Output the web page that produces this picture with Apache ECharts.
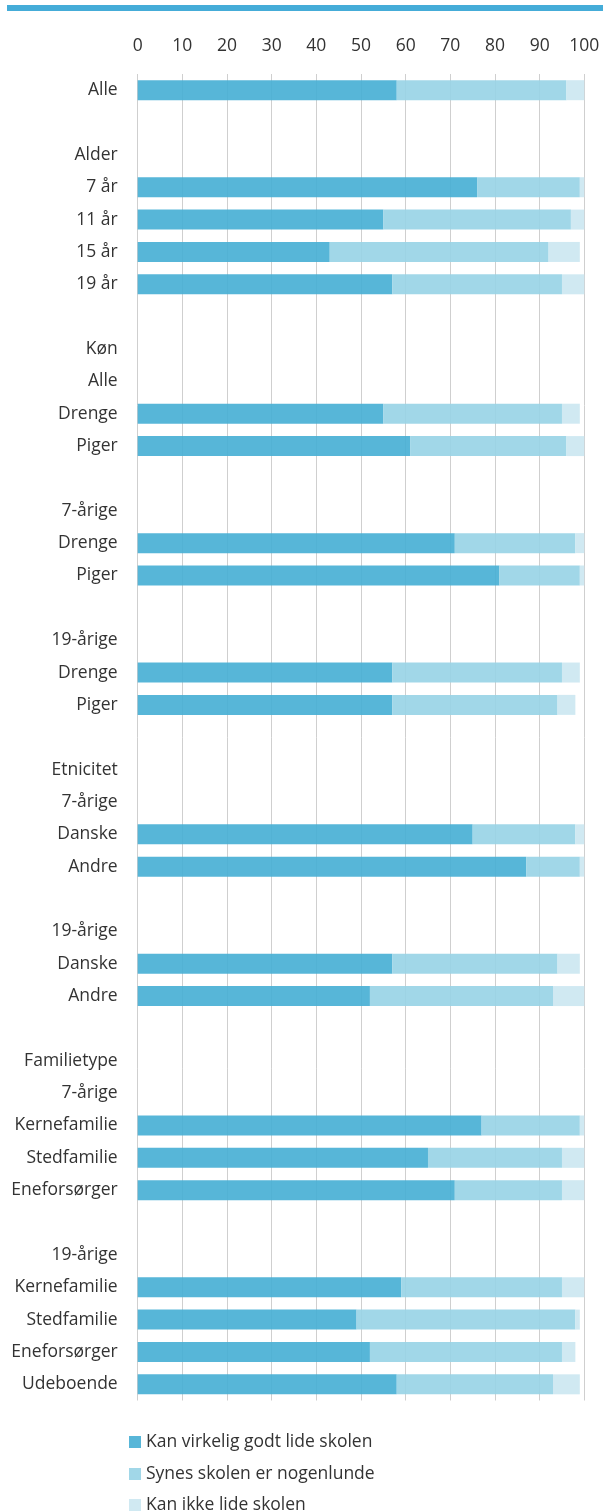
<!DOCTYPE html>
<html>
<head>
<meta charset="utf-8">
<script src="https://cdn.jsdelivr.net/npm/echarts@6/dist/echarts.min.js"></script>
<style>
html,body{margin:0;padding:0;background:#fff;}
#chart{width:603px;height:1512px;}
</style>
</head>
<body>
<div id="chart"></div>
<script>
const categories = ['Alle','','Alder','7 år','11 år','15 år','19 år','',
  'Køn','Alle','Drenge','Piger','','7-årige','Drenge','Piger','','19-årige','Drenge','Piger','',
  'Etnicitet','7-årige','Danske','Andre','','19-årige','Danske','Andre','',
  'Familietype','7-årige','Kernefamilie','Stedfamilie','Eneforsørger','','19-årige','Kernefamilie','Stedfamilie','Eneforsørger','Udeboende'];
const seriesNames = ['Kan virkelig godt lide skolen','Synes skolen er nogenlunde','Kan ikke lide skolen'];
const likeVeryMuch = [58,null,null,76,55,43,57,null,
  null,null,55,61,null,null,71,81,null,null,57,57,null,
  null,null,75,87,null,null,57,52,null,
  null,null,77,65,71,null,null,59,49,52,58];
const soSo = [38,null,null,23,42,49,38,null,
  null,null,40,35,null,null,27,18,null,null,38,37,null,
  null,null,23,12,null,null,37,41,null,
  null,null,22,30,24,null,null,36,49,43,35];
const dislike = [4,null,null,1.5,3,7,5,null,
  null,null,4,4,null,null,2,1,null,null,4,4,null,
  null,null,2,1,null,null,5,7,null,
  null,null,1,5,5,null,null,5,1,3,6];
const xTicks = {min:0, max:100, interval:10};

const colors = ['#45aed4','#97d3e5','#cbe7f1'];
const legendColors = ['#58b6d8','#a1d7e8','#d0e9f2'];
const values = [likeVeryMuch, soSo, dislike];

const chart = echarts.init(document.getElementById('chart'), null, {renderer:'canvas'});
const font = '"Open Sans", sans-serif';
const fs = 17.5;
const legendTops = [1433, 1465, 1496];
chart.setOption({
  animation:false,
  textStyle:{fontFamily:font},
  graphic:[{type:'rect', shape:{x:7,y:5,width:596,height:6}, style:{fill:'#45acd8'}}],
  grid:{left:137.7, right:18.7, top:74, bottom:111.5, containLabel:false},
  xAxis:{type:'value', position:'top', min:xTicks.min, max:xTicks.max, interval:xTicks.interval,
    axisLine:{show:false}, axisTick:{show:false},
    axisLabel:{fontSize:fs, color:'#333', margin:19, fontFamily:font},
    splitLine:{show:true, lineStyle:{color:'#cfcfcf', width:1}}},
  yAxis:{type:'category', inverse:true, data:categories,
    axisLine:{show:false}, axisTick:{show:false}, splitLine:{show:false},
    axisLabel:{fontSize:fs, color:'#333', margin:20, interval:0, fontFamily:font}},
  legend: seriesNames.map((n,i)=>({
    orient:'vertical', left:129, top:legendTops[i], padding:0, itemWidth:12, itemHeight:12, itemGap:0,
    icon:'rect', textStyle:{fontSize:fs, color:'#333', fontFamily:font},
    data:[{name:n, itemStyle:{color:legendColors[i], opacity:1}}]})),
  series: seriesNames.map((n,i)=>({
    name:n, type:'bar', stack:'total', barWidth:20,
    itemStyle:{color:colors[i], opacity:0.9},
    emphasis:{disabled:true},
    data:values[i]
  }))
});
</script>
</body>
</html>
